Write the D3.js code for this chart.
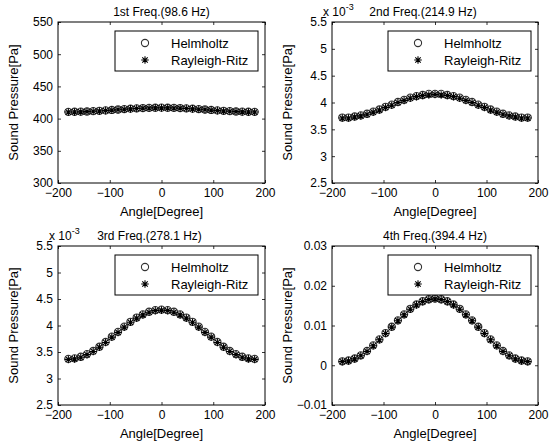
<!DOCTYPE html>
<html>
<head>
<meta charset="utf-8">
<script src="https://cdn.jsdelivr.net/npm/d3@7"></script>
<style>
  body { margin: 0; background: #fff; }
  svg { display: block; }
  text { font-family: "Liberation Sans", Arial, sans-serif; fill: #000; }
</style>
</head>
<body>
<svg id="chart" width="556" height="444"></svg>
<script>
// angles in degrees, one sample every 12 degrees
const angles = [-180, -168, -156, -144, -132, -120, -108, -96, -84, -72, -60, -48, -36, -24, -12, 0,
  12, 24, 36, 48, 60, 72, 84, 96, 108, 120, 132, 144, 156, 168, 180];

// 1st mode, Pa
const helm1 = [410.5, 410.6, 410.8, 411.1, 411.6, 412.1, 412.7, 413.4, 414.1, 414.8, 415.4, 415.9, 416.4, 416.7, 416.9, 417.0,
  416.9, 416.7, 416.4, 415.9, 415.4, 414.8, 414.1, 413.4, 412.7, 412.1, 411.6, 411.1, 410.8, 410.6, 410.5];
const rr1 = [410.2, 410.3, 410.5, 410.8, 411.3, 411.8, 412.4, 413.1, 413.8, 414.5, 415.1, 415.6, 416.1, 416.4, 416.6, 416.7,
  416.6, 416.4, 416.1, 415.6, 415.1, 414.5, 413.8, 413.1, 412.4, 411.8, 411.3, 410.8, 410.5, 410.3, 410.2];

// 2nd mode, x 10^-3 Pa
const helm2 = [3.72, 3.72, 3.74, 3.76, 3.79, 3.83, 3.87, 3.92, 3.96, 4.01, 4.05, 4.09, 4.12, 4.14, 4.16, 4.16,
  4.16, 4.14, 4.12, 4.09, 4.05, 4.01, 3.96, 3.92, 3.87, 3.83, 3.79, 3.76, 3.74, 3.72, 3.72];
const rr2 = [3.71, 3.71, 3.73, 3.75, 3.78, 3.82, 3.86, 3.91, 3.95, 4.00, 4.04, 4.08, 4.11, 4.13, 4.14, 4.15,
  4.14, 4.13, 4.11, 4.08, 4.04, 4.00, 3.95, 3.91, 3.86, 3.82, 3.78, 3.75, 3.73, 3.71, 3.71];

// 3rd mode, x 10^-3 Pa
const helm3 = [3.37, 3.38, 3.41, 3.46, 3.52, 3.60, 3.69, 3.79, 3.88, 3.98, 4.07, 4.15, 4.21, 4.26, 4.29, 4.30,
  4.29, 4.26, 4.21, 4.15, 4.07, 3.98, 3.88, 3.79, 3.69, 3.60, 3.52, 3.46, 3.41, 3.38, 3.37];
const rr3 = [3.36, 3.37, 3.40, 3.45, 3.51, 3.59, 3.68, 3.78, 3.87, 3.97, 4.06, 4.14, 4.20, 4.25, 4.28, 4.29,
  4.28, 4.25, 4.20, 4.14, 4.06, 3.97, 3.87, 3.78, 3.68, 3.59, 3.51, 3.45, 3.40, 3.37, 3.36];

// 4th mode, Pa
const helm4 = [0.0010, 0.0012, 0.0017, 0.0025, 0.0036, 0.0050, 0.0065, 0.0081, 0.0097, 0.0113, 0.0128, 0.0142, 0.0153, 0.0161, 0.0166, 0.0168,
  0.0166, 0.0161, 0.0153, 0.0142, 0.0128, 0.0113, 0.0097, 0.0081, 0.0065, 0.0050, 0.0036, 0.0025, 0.0017, 0.0012, 0.0010];
const rr4 = [0.0009, 0.0011, 0.0016, 0.0024, 0.0035, 0.0049, 0.0064, 0.0080, 0.0096, 0.0112, 0.0127, 0.0141, 0.0152, 0.0160, 0.0165, 0.0167,
  0.0165, 0.0160, 0.0152, 0.0141, 0.0127, 0.0112, 0.0096, 0.0080, 0.0064, 0.0049, 0.0035, 0.0024, 0.0016, 0.0011, 0.0009];

const xTicks = [-200, -100, 0, 100, 200];
const yTicks1 = [300, 350, 400, 450, 500, 550];
const yTicks2 = [2.5, 3, 3.5, 4, 4.5, 5, 5.5];
const yTicks3 = [2.5, 3, 3.5, 4, 4.5, 5, 5.5];
const yTicks4 = [-0.01, 0, 0.01, 0.02, 0.03];

const titles = ["1st Freq.(98.6 Hz)", "2nd Freq.(214.9 Hz)", "3rd Freq.(278.1 Hz)", "4th Freq.(394.4 Hz)"];
const seriesNames = ["Helmholtz", "Rayleigh-Ritz"];

const svg = d3.select("#chart");
const tickLen = 3;
const markR = 3.6;

function drawPanel(box, yTicks, yFmt, helm, rr, title, scaled) {
  const x = d3.scaleLinear().domain([-200, 200]).range([box.x0, box.x1]);
  const y = d3.scaleLinear().domain([yTicks[0], yTicks[yTicks.length - 1]]).range([box.y1, box.y0]);
  const g = svg.append("g");

  // bottom / top axes, ticks pointing inwards
  g.append("g")
    .attr("transform", "translate(0," + box.y1 + ")")
    .call(d3.axisBottom(x).tickValues(xTicks).tickSize(-tickLen).tickPadding(6))
    .call(a => a.select(".domain").remove())
    .call(a => a.selectAll("text").style("font-size", "12px").attr("dy", "0.7em"));
  g.append("g")
    .attr("transform", "translate(0," + box.y0 + ")")
    .call(d3.axisTop(x).tickValues(xTicks).tickSize(-tickLen).tickFormat(""))
    .call(a => a.select(".domain").remove());
  g.append("g")
    .attr("transform", "translate(" + box.x0 + ",0)")
    .call(d3.axisLeft(y).tickValues(yTicks).tickSize(-tickLen).tickPadding(5).tickFormat(yFmt))
    .call(a => a.select(".domain").remove())
    .call(a => a.selectAll("text").style("font-size", "12px"));
  g.append("g")
    .attr("transform", "translate(" + box.x1 + ",0)")
    .call(d3.axisRight(y).tickValues(yTicks).tickSize(-tickLen).tickFormat(""))
    .call(a => a.select(".domain").remove());
  g.selectAll(".tick line").attr("stroke", "#000").attr("stroke-width", 0.8);

  g.append("rect")
    .attr("x", box.x0).attr("y", box.y0)
    .attr("width", box.x1 - box.x0).attr("height", box.y1 - box.y0)
    .attr("fill", "none").attr("stroke", "#000").attr("stroke-width", 1);

  // markers
  g.selectAll(".helm")
    .data(angles.map((a, i) => [a, helm[i]]))
    .enter()
    .append("circle")
      .attr("cx", d => x(d[0]))
      .attr("cy", d => y(d[1]))
      .attr("r", markR)
      .attr("fill", "none")
      .attr("stroke", "#333")
      .attr("stroke-width", 1.1);
  g.selectAll(".rr")
    .data(angles.map((a, i) => [a, rr[i]]))
    .enter()
    .append("path")
      .attr("transform", d => "translate(" + x(d[0]) + "," + y(d[1]) + ")")
      .attr("d", starPath(3.8))
      .attr("stroke", "#000")
      .attr("stroke-width", 1.1)
      .attr("fill", "none");

  // title (shifted right of the exponent label where there is one)
  g.append("text")
    .attr("x", (box.x0 + box.x1) / 2 + (scaled ? -12 : 0))
    .attr("y", box.y0 - 6)
    .text(title)
    .style("text-anchor", "middle")
    .style("font-size", "12px");

  if (scaled) {
    const t = g.append("text")
      .attr("x", box.x0 - 9)
      .attr("y", box.y0 - 6)
      .style("font-size", "12px");
    t.append("tspan").text("x 10");
    t.append("tspan").text("-3").attr("dy", -6).style("font-size", "9px");
  }

  // axis labels
  g.append("text")
    .attr("x", (box.x0 + box.x1) / 2)
    .attr("y", box.y1 + 33)
    .text("Angle[Degree]")
    .style("text-anchor", "middle")
    .style("font-size", "13px");
  g.append("text")
    .attr("transform", "translate(" + (box.x0 - 40) + "," + ((box.y0 + box.y1) / 2) + ") rotate(-90)")
    .text("Sound Pressure[Pa]")
    .style("text-anchor", "middle")
    .style("font-size", "13px");

  // legend
  const lw = 143, lh = 40;
  const lx = box.x1 - 7 - lw, ly = box.y0 + 9;
  const leg = g.append("g").attr("transform", "translate(" + lx + "," + ly + ")");
  leg.append("rect")
    .attr("width", lw).attr("height", lh)
    .attr("fill", "#fff").attr("stroke", "#000").attr("stroke-width", 1);
  leg.append("circle")
    .attr("cx", 30).attr("cy", 12).attr("r", markR)
    .attr("fill", "none").attr("stroke", "#333").attr("stroke-width", 1.1);
  leg.append("path")
    .attr("transform", "translate(30,29)")
    .attr("d", starPath(3.8))
    .attr("stroke", "#000").attr("stroke-width", 1.1);
  seriesNames.forEach((n, i) => {
    leg.append("text")
      .attr("x", 56)
      .attr("y", 12 + i * 17)
      .attr("dy", "0.35em")
      .text(n)
      .style("font-size", "13px");
  });
}

function starPath(r) {
  const d = r * 0.72;
  return "M" + (-r) + ",0L" + r + ",0M0," + (-r) + "L0," + r +
    "M" + (-d) + "," + (-d) + "L" + d + "," + d + "M" + (-d) + "," + d + "L" + d + "," + (-d);
}

const fmtPlain = d3.format("");
drawPanel({x0: 58, x1: 265, y0: 22, y1: 183}, yTicks1, fmtPlain, helm1, rr1, titles[0], false);
drawPanel({x0: 332, x1: 538, y0: 22, y1: 183}, yTicks2, fmtPlain, helm2, rr2, titles[1], true);
drawPanel({x0: 58, x1: 265, y0: 246, y1: 405}, yTicks3, fmtPlain, helm3, rr3, titles[2], true);
drawPanel({x0: 332, x1: 538, y0: 246, y1: 405}, yTicks4, fmtPlain, helm4, rr4, titles[3], false);
</script>
</body>
</html>
